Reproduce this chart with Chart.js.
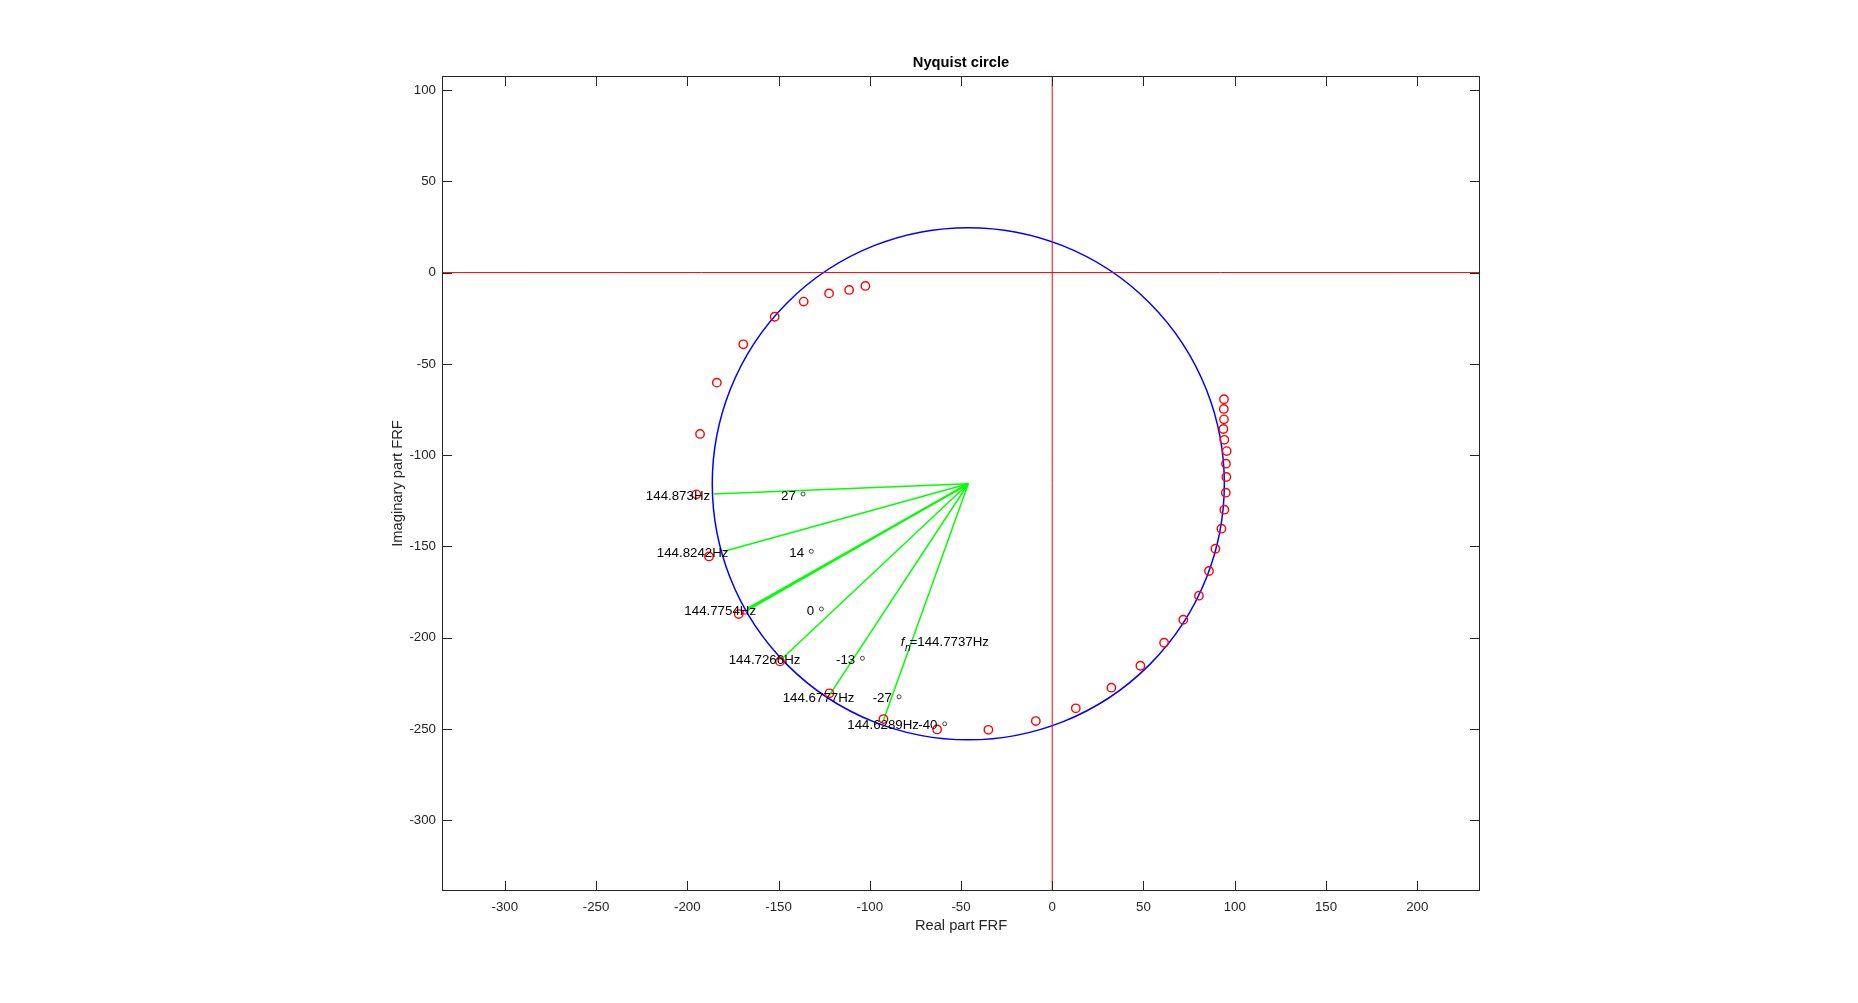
<!DOCTYPE html>
<html><head><meta charset="utf-8">
<script src="https://cdn.jsdelivr.net/npm/chart.js@4/dist/chart.umd.min.js"></script>
<style>html,body{margin:0;padding:0;background:#fff;overflow:hidden}canvas{display:block}</style>
</head><body>
<canvas id="c" width="1858" height="1003"></canvas>
<script>
// ---------- data ----------
const titleText = 'Nyquist circle';
const xLabelText = 'Real part FRF';
const yLabelText = 'Imaginary part FRF';
const xTicks = [-300, -250, -200, -150, -100, -50, 0, 50, 100, 150, 200];
const yTicks = [100, 50, 0, -50, -100, -150, -200, -250, -300];
const xLimits = [-334.4, 234.4];
const yLimits = [-338.8, 107.7];

const measuredRe = [94.1, 94.0, 94.1, 93.8, 94.3, 95.6, 95.2, 95.4, 95.1, 94.3, 92.7, 89.4, 85.9, 80.4, 71.8,
  61.3, 48.3, 32.4, 12.9, -9.0, -35.0, -63.1, -92.5, -122.1, -149.2, -171.8, -188.1, -195.0,
  -193.0, -183.8, -169.3, -152.1, -136.2, -122.3, -111.3, -102.4];
const measuredIm = [-69.4, -74.7, -80.4, -85.7, -91.6, -97.8, -104.7, -112.0, -120.6, -129.9, -140.3, -151.3, -163.5, -177.0, -190.2,
  -202.8, -215.4, -227.4, -238.7, -245.7, -250.5, -250.3, -244.6, -230.5, -213.0, -187.1, -155.5, -121.5,
  -88.4, -60.3, -39.3, -24.2, -15.9, -11.4, -9.5, -7.3];

const circleCenter = [-46.0, -115.7];
const circleRadius = 140.3;

const spokeEndRe = [-185.7, -179.8, -167.0, -166.75, -167.25, -148.7, -122.1, -92.5];
const spokeEndIm = [-121.3, -152.7, -184.5, -184.95, -184.05, -212.1, -231.5, -245.2];

const naturalPointRe = [-168.3];
const naturalPointIm = [-186.0];

const freqLabels = ['144.873Hz', '144.8242Hz', '144.7754Hz', '144.7266Hz', '144.6777Hz', '144.6289Hz'];
const freqLabelRe = [-222.7, -216.7, -201.6, -177.3, -147.7, -112.3];
const freqLabelIm = [-122.4, -153.8, -185.4, -212.4, -233.5, -248.3];

const angleLabels = ['27', '14', '0', '-13', '-27', '-40'];
const angleLabelRe = [-148.6, -144.1, -134.5, -118.5, -98.4, -73.4];
const angleLabelIm = [-122.4, -153.8, -185.4, -212.4, -233.5, -248.3];

const naturalFreqText = '=144.7737Hz';
const naturalFreqPos = [-83.0, -202.8];

// ---------- chart ----------
const FONT = '"Liberation Sans", Arial, Helvetica, sans-serif';
const AX = '#262626';

const pts = (xs, ys) => xs.map((x, i) => ({x, y: ys[i]}));

const datasets = [];
datasets.push({
  label: 'measured', data: pts(measuredRe, measuredIm), showLine: false,
  pointStyle: 'circle', pointRadius: 4.2, pointBorderColor: '#ff0000', pointBackgroundColor: 'rgba(0,0,0,0)',
  pointBorderWidth: 1.4, order: 0
});
datasets.push({
  label: 'fn', data: pts(naturalPointRe, naturalPointIm), showLine: false,
  pointStyle: 'rect', pointRadius: 2.5, pointBorderColor: '#ff00ff', pointBackgroundColor: 'rgba(0,0,0,0)',
  pointBorderWidth: 1.2, order: 1
});
spokeEndRe.forEach((x, i) => {
  datasets.push({
    label: 'spoke' + i,
    data: [{x: circleCenter[0], y: circleCenter[1]}, {x, y: spokeEndIm[i]}],
    showLine: true, borderColor: '#00ff00', borderWidth: 1.5, pointRadius: 0, order: 2
  });
});
datasets.push({
  label: 'hline', data: [{x: xLimits[0], y: 0}, {x: xLimits[1], y: 0}],
  showLine: true, borderColor: '#ff0000', borderWidth: 1, pointRadius: 0, order: 5
});
datasets.push({
  label: 'vline', data: [{x: 0, y: yLimits[0]}, {x: 0, y: yLimits[1]}],
  showLine: true, borderColor: '#ff0000', borderWidth: 1, pointRadius: 0, order: 5
});

const decor = {
  id: 'decor',
  beforeDatasetsDraw(chart) {
    const ctx = chart.ctx, a = chart.chartArea, xs = chart.scales.x, ys = chart.scales.y;
    ctx.save();
    ctx.beginPath(); ctx.rect(a.left, a.top, a.width, a.height); ctx.clip();
    const cx = xs.getPixelForValue(circleCenter[0]), cy = ys.getPixelForValue(circleCenter[1]);
    const rx = Math.abs(xs.getPixelForValue(circleCenter[0] + circleRadius) - cx);
    const ry = Math.abs(ys.getPixelForValue(circleCenter[1] + circleRadius) - cy);
    ctx.beginPath(); ctx.ellipse(cx, cy, rx, ry, 0, 0, Math.PI * 2);
    ctx.strokeStyle = '#0000ff'; ctx.lineWidth = 1.5; ctx.stroke();
    ctx.restore();
  },
  afterDatasetsDraw(chart) {
    const ctx = chart.ctx, a = chart.chartArea, xs = chart.scales.x, ys = chart.scales.y;
    ctx.save();
    ctx.fillStyle = '#000';
    ctx.textBaseline = 'middle'; ctx.textAlign = 'left';
    ctx.font = '13.3px ' + FONT;
    freqLabels.forEach((t, i) => {
      ctx.fillText(t, xs.getPixelForValue(freqLabelRe[i]), ys.getPixelForValue(freqLabelIm[i]));
    });
    angleLabels.forEach((t, i) => {
      ctx.font = '13.3px ' + FONT;
      const x0 = xs.getPixelForValue(angleLabelRe[i]), y0 = ys.getPixelForValue(angleLabelIm[i]);
      ctx.fillText(t + ' ', x0, y0);
      const w = ctx.measureText(t + ' ').width;
      ctx.beginPath();
      ctx.arc(x0 + w + 3.5, y0 - 2, 2, 0, Math.PI * 2);
      ctx.strokeStyle = '#333'; ctx.lineWidth = 0.9; ctx.stroke();
    });
    // f_n label
    const fx = xs.getPixelForValue(naturalFreqPos[0]), fy = ys.getPixelForValue(naturalFreqPos[1]);
    ctx.font = 'italic 13.3px ' + FONT;
    ctx.fillText('f', fx, fy);
    const wf = ctx.measureText('f').width;
    ctx.font = 'italic 10px ' + FONT;
    ctx.fillText('n', fx + wf + 0.5, fy + 5);
    const wn = ctx.measureText('n').width;
    ctx.font = '13.3px ' + FONT;
    ctx.fillText(naturalFreqText, fx + wf + wn - 0.5, fy);
    ctx.restore();
  },
  afterDraw(chart) {
    const ctx = chart.ctx, a = chart.chartArea, xs = chart.scales.x, ys = chart.scales.y;
    ctx.save();
    ctx.strokeStyle = AX; ctx.lineWidth = 1;
    ctx.strokeRect(a.left + 0.5, a.top + 0.5, a.width - 1, a.height - 1);
    const tl = 10;
    ctx.beginPath();
    xTicks.forEach(v => {
      const x = Math.round(xs.getPixelForValue(v)) + 0.5;
      ctx.moveTo(x, a.bottom); ctx.lineTo(x, a.bottom - tl);
      ctx.moveTo(x, a.top); ctx.lineTo(x, a.top + tl);
    });
    yTicks.forEach(v => {
      const y = Math.round(ys.getPixelForValue(v)) + 0.5;
      ctx.moveTo(a.left, y); ctx.lineTo(a.left + tl, y);
      ctx.moveTo(a.right, y); ctx.lineTo(a.right - tl, y);
    });
    ctx.stroke();
    const midX = (a.left + a.right) / 2, midY = (a.top + a.bottom) / 2;
    ctx.textAlign = 'center'; ctx.textBaseline = 'middle';
    ctx.fillStyle = '#000';
    ctx.font = 'bold 14.7px ' + FONT;
    ctx.fillText(titleText, midX, 63);
    ctx.fillStyle = AX;
    ctx.font = '14.7px ' + FONT;
    ctx.fillText(xLabelText, midX, 926);
    ctx.translate(398, midY); ctx.rotate(-Math.PI / 2);
    ctx.fillText(yLabelText, 0, 0);
    ctx.restore();
  }
};

new Chart(document.getElementById('c'), {
  type: 'scatter',
  data: { datasets },
  options: {
    responsive: false, animation: false, devicePixelRatio: 1,
    layout: { padding: { left: 0, top: 76, right: 378, bottom: 0 } },
    plugins: { legend: { display: false }, tooltip: { enabled: false }, title: { display: false } },
    elements: { line: { tension: 0 } },
    scales: {
      x: {
        type: 'linear', position: 'bottom', min: xLimits[0], max: xLimits[1],
        grid: { display: false, drawTicks: false }, border: { display: false },
        afterBuildTicks: s => { s.ticks = xTicks.map(v => ({ value: v })); },
        afterFit: s => { s.height = 112; },
        ticks: { autoSkip: false, maxRotation: 0, padding: 8, color: AX, font: { family: FONT, size: 13.3 }, callback: v => String(v) }
      },
      y: {
        type: 'linear', position: 'left', min: yLimits[0], max: yLimits[1],
        grid: { display: false, drawTicks: false }, border: { display: false },
        afterBuildTicks: s => { s.ticks = yTicks.map(v => ({ value: v })); },
        afterFit: s => { s.width = 442; },
        ticks: { autoSkip: false, padding: 6, color: AX, font: { family: FONT, size: 13.3 }, callback: v => String(v) }
      }
    }
  },
  plugins: [decor]
});
</script>
</body></html>
